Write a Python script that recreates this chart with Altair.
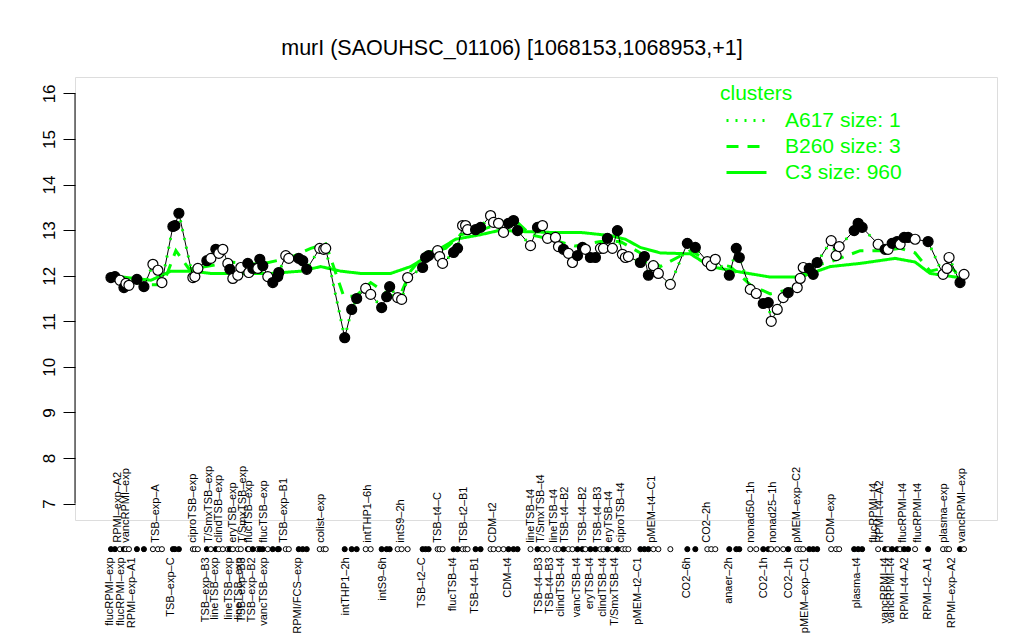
import altair as alt
import pandas as pd

GREEN = "#00ff00"
FONT = "Liberation Sans"

# ---- sample points: position along the strip, expression value, filled (1) / open (0)
pos = [110, 114, 119, 123, 125, 128, 136, 143, 152, 157, 161, 172, 174, 178, 192, 194, 197,
       206, 210, 215, 218, 222, 227, 229, 232, 237, 240, 247, 248, 252, 257, 259, 262, 267,
       272, 277, 278, 285, 288, 298, 302, 306, 319, 323, 325,
       344, 351, 356, 365, 370, 381, 386, 389, 397, 401, 407, 422, 425, 428, 437, 439, 442,
       453, 457, 462, 465, 467, 475, 480, 490, 493, 498, 503, 508, 513, 517, 530, 537, 542, 547,
       555, 558, 563, 568, 572, 577, 582, 585, 590, 595, 600, 603, 607, 612, 617, 622, 625, 628,
       640, 644, 648, 653, 658, 670, 687, 695, 707, 711, 715, 729, 736, 739, 750, 756, 763, 768,
       771, 777, 783, 788, 797, 800, 803, 809, 813, 817, 831, 836, 839, 854, 858, 862, 878, 885,
       888, 892, 897, 900, 904, 908, 915, 928, 943, 947, 949, 960, 964]
vals = [11.96, 11.98, 11.90, 11.74, 11.83, 11.79, 11.92, 11.76, 12.25, 12.12, 11.85, 13.08, 13.10,
        13.37, 11.96, 11.98, 12.16, 12.33, 12.38, 12.58, 12.49, 12.58, 12.27, 12.14, 11.94, 12.01,
        12.18, 12.27, 12.07, 12.16, 12.16, 12.36, 12.22, 11.98, 11.85, 11.98, 12.07, 12.44, 12.38,
        12.38, 12.33, 12.14, 12.60, 12.58, 12.60,
        10.64, 11.26, 11.50, 11.72, 11.59, 11.30, 11.54, 11.76, 11.52, 11.48, 11.96, 12.18, 12.40,
        12.44, 12.55, 12.42, 12.27, 12.51, 12.60, 13.10, 13.10, 13.01, 13.01, 13.06, 13.32, 13.17,
        13.15, 12.95, 13.15, 13.21, 12.99, 12.66, 13.06, 13.10, 12.82,
        12.84, 12.64, 12.58, 12.49, 12.29, 12.44, 12.62, 12.58, 12.40, 12.40, 12.60, 12.60, 12.82,
        12.60, 12.99, 12.47, 12.40, 12.42, 12.29, 12.42, 12.01, 12.22, 12.05, 11.81, 12.71, 12.62,
        12.31, 12.22, 12.36, 12.01, 12.60, 12.40, 11.70, 11.61, 11.39, 11.41, 11.00, 11.26, 11.52,
        11.63, 11.74, 11.94, 12.18, 12.16, 12.03, 12.29, 12.77, 12.44, 12.64, 12.99, 13.15, 13.06,
        12.69, 12.58, 12.58, 12.71, 12.75, 12.69, 12.84, 12.84, 12.80, 12.75, 12.03, 12.16, 12.40,
        11.85, 12.03]
filled = [1, 1, 0, 1, 0, 0, 1, 1, 0, 0, 0, 1, 1, 1, 0, 0, 0, 1, 0, 1, 0, 0, 0, 1, 0, 0, 0, 1, 0, 1,
          0, 1, 1, 0, 1, 1, 1, 0, 0, 1, 1, 1, 0, 0, 0,
          1, 1, 1, 0, 0, 1, 1, 1, 0, 0, 0, 1, 1, 1, 0, 0, 0, 1, 1, 0, 0, 0, 1, 1, 0, 0, 0, 0, 1, 1,
          1, 0, 1, 0, 0,
          0, 0, 1, 0, 0, 1, 1, 0, 1, 1, 0, 0, 1, 0, 1, 0, 0, 0, 1, 1, 1, 0, 0, 0, 1, 1, 0, 0, 0, 1,
          1, 1, 0, 0, 1, 1, 0, 0, 0, 1, 0, 0, 0, 1, 1, 1, 0, 0, 0, 1, 1, 1, 0, 1, 0, 1, 1, 0, 1, 1,
          0, 1, 0, 0, 0, 1, 0]

# ---- cluster profiles
c3_pos = [110, 130, 150, 170, 190, 210, 240, 270, 300, 320, 340, 360, 390, 410, 425, 440, 455,
          480, 500, 520, 550, 580, 610, 625, 640, 660, 690, 710, 740, 770, 800, 830, 860, 895,
          915, 930, 962]
c3_val = [12.0, 11.95, 11.9, 12.1, 12.1, 12.05, 12.05, 12.05, 12.1, 12.2, 12.1, 12.05, 12.05,
          12.2, 12.4, 12.6, 12.8, 12.9, 13.0, 12.97, 12.95, 12.95, 12.88, 12.8, 12.62, 12.5,
          12.48, 12.2, 12.08, 11.97, 11.97, 12.2, 12.27, 12.38, 12.3, 12.05, 11.95]
b260_pos = [110, 135, 150, 162, 175, 188, 205, 230, 260, 290, 310, 325, 343, 355, 370, 390, 400,
            410, 425, 445, 460, 480, 500, 513, 530, 550, 575, 600, 620, 640, 660, 690, 710, 730,
            750, 770, 790, 810, 830, 860, 880, 900, 915, 930, 950, 962]
b260_val = [12.0, 11.85, 11.8, 11.8, 12.55, 12.15, 12.2, 12.3, 12.25, 12.4, 12.6, 12.7, 11.55,
            11.55, 11.85, 11.55, 11.6, 12.1, 12.5, 12.6, 12.9, 13.0, 13.15, 13.25, 12.9, 12.8,
            12.65, 12.75, 12.75, 12.5, 12.2, 12.55, 12.3, 12.2, 11.8, 11.6, 11.7, 12.2, 12.3,
            12.55, 12.55, 12.6, 12.5, 12.1, 12.2, 11.95]

# ---- sample labels
top_labels = ["RPMI\u2013exp\u2013A2", "vancRPMI\u2013exp", "TSB\u2013exp\u2013A", "ciproTSB\u2013exp",
              "T/SmxTSB\u2013exp", "clindTSB\u2013exp", "eryTSB\u2013exp", "T/SmxTSB\u2013exp",
              "flucTSB\u2013exp", "flucTSB\u2013exp", "TSB\u2013exp\u2013B1", "colist\u2013exp",
              "intTHP1\u20136h", "intS9\u20132h", "TSB\u2013t4\u2013C", "TSB\u2013t2\u2013B1", "CDM\u2013t2",
              "lineTSB\u2013t4", "T/SmxTSB\u2013t4", "lineTSB\u2013t4", "TSB\u2013t4\u2013B2",
              "TSB\u2013t4\u2013B2", "TSB\u2013t4\u2013B3", "eryTSB\u2013t4", "ciproTSB\u2013t4",
              "pMEM\u2013t4\u2013C1", "CO2\u20132h", "nonad50\u20131h", "nonad25\u20131h",
              "pMEM\u2013exp\u2013C2", "CDM\u2013exp", "flucRPMI\u2013t4", "RPMI\u2013t4\u2013A2",
              "flucRPMI\u2013t4", "flucRPMI\u2013t4", "plasma\u2013exp", "vancRPMI\u2013exp"]
top_pos = [117, 125, 155, 192, 208, 218, 232, 242, 248, 263, 283, 320, 367, 400, 437, 463, 492,
           530, 541, 554, 565, 583, 598, 609, 621, 652, 707, 751, 773, 797, 831, 874, 880, 903,
           918, 944, 962]
bottom_labels = ["flucRPMI\u2013exp", "flucRPMI\u2013exp", "RPMI\u2013exp\u2013A1", "TSB\u2013exp\u2013C",
                 "TSB\u2013exp\u2013B3", "lineTSB\u2013exp", "lineTSB\u2013exp", "lineTSB\u2013exp",
                 "TSB\u2013exp\u2013B3", "TSB\u2013exp\u2013B2", "vancTSB\u2013exp", "RPMI/FCS\u2013exp",
                 "intTHP1\u20132h", "intS9\u20136h", "TSB\u2013t2\u2013C", "flucTSB\u2013t4",
                 "TSB\u2013t4\u2013B1", "CDM\u2013t4", "TSB\u2013t4\u2013B3", "TSB\u2013t4\u2013B3",
                 "clindTSB\u2013t4", "vancTSB\u2013t4", "eryTSB\u2013t4", "clindTSB\u2013t4",
                 "T/SmxTSB\u2013t4", "pMEM\u2013t2\u2013C1", "CO2\u20136h", "anaer\u20132h", "CO2\u20131h",
                 "CO2\u20131h", "pMEM\u2013exp\u2013C1", "plasma\u2013t4", "vancRPMI\u2013t4",
                 "vancRPMI\u2013t4", "RPMI\u2013t4\u2013A2", "RPMI\u2013t2\u2013A1", "RPMI\u2013exp\u2013A2"]
bottom_pos = [109, 120, 131, 170, 205, 214, 228, 238, 241, 251, 263, 297, 345, 382, 421, 452,
              474, 507, 539, 550, 561, 577, 590, 603, 615, 638, 687, 729, 764, 789, 805, 857, 885,
              891, 905, 928, 952]

y_ticks = [7, 8, 9, 10, 11, 12, 13, 14, 15, 16]
cluster_names = ["A617 size: 1", "B260 size: 3", "C3 size: 960"]

# ---- tables
pts = pd.DataFrame({"pos": pos, "value": vals,
                    "kind": ["filled" if f else "open" for f in filled]})
lines = pd.concat([
    pd.DataFrame({"pos": pos, "value": vals, "cluster": cluster_names[0]}),
    pd.DataFrame({"pos": b260_pos, "value": b260_val, "cluster": cluster_names[1]}),
    pd.DataFrame({"pos": c3_pos, "value": c3_val, "cluster": cluster_names[2]}),
], ignore_index=True)
labs = pd.concat([
    pd.DataFrame({"pos": top_pos, "text": top_labels, "level": "top"}),
    pd.DataFrame({"pos": bottom_pos, "text": bottom_labels, "level": "bottom"}),
], ignore_index=True)

xs = alt.Scale(domain=[74, 997], nice=False, zero=False)
ys = alt.Scale(domain=[6.64, 16.36], nice=False, zero=False)
X = alt.X("pos:Q", scale=xs, axis=None)
y_axis = alt.Axis(values=y_ticks, domain=False, grid=False, title=None,
                  tickSize=12, tickColor="black", tickWidth=1,
                  labelAngle=270, labelAlign="center", labelBaseline="bottom",
                  labelPadding=5, labelFontSize=17, labelFont=FONT,
                  labelColor="black")
Y = alt.Y("value:Q", scale=ys, axis=y_axis)

dash = alt.StrokeDash(
    "cluster:N",
    scale=alt.Scale(domain=cluster_names, range=[[2, 7], [12, 9], [1, 0]]),
    legend=alt.Legend(title="clusters", orient="none", legendX=645, legendY=6,
                      titleColor=GREEN, labelColor=GREEN, titleFont=FONT, labelFont=FONT,
                      titleFontSize=21, labelFontSize=21, titleFontWeight="normal",
                      symbolType="M-2,0L2,0", symbolSize=400, symbolStrokeColor=GREEN,
                      symbolStrokeWidth=3, symbolOffset=15, labelOffset=27,
                      rowPadding=4, titlePadding=5, padding=0))

cluster_lines = alt.Chart(lines).transform_filter(
    alt.datum.cluster != cluster_names[0]
).mark_line(color=GREEN, strokeWidth=3).encode(
    x=X, y=Y, strokeDash=dash, detail="cluster:N", order="pos:Q")

black_line = alt.Chart(pts).mark_line(color="black", strokeWidth=1).encode(
    x=X, y=Y, order="pos:Q")

dotted = alt.Chart(lines).transform_filter(
    alt.datum.cluster == cluster_names[0]
).mark_line(color=GREEN, strokeWidth=3).encode(
    x=X, y=Y, strokeDash=dash, order="pos:Q")

fill = alt.Fill("kind:N", scale=alt.Scale(domain=["filled", "open"], range=["black", "white"]),
                legend=None)

points = alt.Chart(pts).mark_point(shape="circle", filled=True, size=100, stroke="black",
                                   strokeWidth=1.2, opacity=1).encode(x=X, y=Y, fill=fill)

strip = alt.Chart(pts).mark_point(shape="circle", filled=True, size=26, stroke="black",
                                  strokeWidth=1, opacity=1).encode(
    x=X, y=alt.datum(6.0), fill=fill)

top_text = alt.Chart(labs).transform_filter(alt.datum.level == "top").mark_text(
    angle=270, align="left", baseline="middle", fontSize=11, font=FONT, color="black"
).encode(x=X, y=alt.datum(6.14), text="text:N")

bottom_text = alt.Chart(labs).transform_filter(alt.datum.level == "bottom").mark_text(
    angle=270, align="right", baseline="middle", fontSize=11, font=FONT, color="black"
).encode(x=X, y=alt.datum(5.82), text="text:N")

axis_line = alt.Chart(pd.DataFrame({"lo": [y_ticks[0]], "hi": [y_ticks[-1]]})).mark_rule(
    color="black", strokeWidth=1).encode(
    x=alt.value(0), y=alt.Y("lo:Q", scale=ys, axis=y_axis), y2="hi:Q")

chart = alt.layer(
    cluster_lines, black_line, dotted, points, strip, top_text, bottom_text, axis_line
).properties(
    width=922, height=443,
    title=alt.TitleParams("murI (SAOUHSC_01106) [1068153,1068953,+1]", font=FONT,
                          fontSize=21.5, fontWeight="normal", color="black",
                          anchor="middle", dx=-24, offset=18),
    autosize=alt.AutoSizeParams(type="none"),
    padding={"left": 67, "top": 69, "right": 10, "bottom": 118},
).configure_view(strokeWidth=0).configure(background="white")

chart.save("out.html", embed_options={"renderer": "svg", "actions": False})
